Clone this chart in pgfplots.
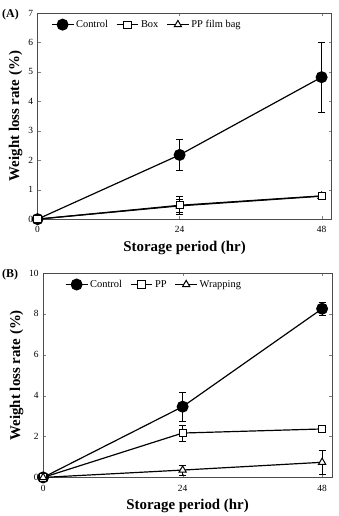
\documentclass[border=0pt]{standalone}
\usepackage{fontspec}
\setmainfont{Liberation Serif}
\usepackage{pgfplots}
\pgfplotsset{compat=1.18}
\begin{document}
\begin{tikzpicture}
\path (0bp,0bp) rectangle (340bp,-516bp);
\pgfplotsset{
  myax/.style={
    scale only axis,
    xmin=0, xmax=49.7, ymin=0,
    xtick={0,24,48},
    /pgf/number format/assume math mode=true,
    tick label style={font=\fontsize{9.5}{10}\selectfont},
    xticklabel style={yshift=-4bp},
    yticklabel style={xshift=-1bp},
    xlabel={\textbf{Storage period (hr)}},
    ylabel={\textbf{Weight loss rate (\%)}},
    label style={font=\fontsize{15}{16}\selectfont},
    xlabel style={yshift=-1bp},
    ylabel style={yshift=-1bp},
    tick align=inside, major tick length=3bp,
    axis line style={line width=0.8bp, black!70},
    legend style={draw=none, fill=none, at={(0.035,0.985)}, anchor=north west,
      font=\fontsize{10.5}{11}\selectfont, legend columns=3,
      /tikz/every even column/.append style={column sep=6bp}},
    legend image code/.code={\draw[mark repeat=2,mark phase=2] plot coordinates {(0bp,0bp)(11bp,0bp)(22bp,0bp)};},
    error bars/y dir=both, error bars/y explicit,
    error bars/error bar style={line width=0.6bp},
    error bars/error mark options={rotate=90, mark size=3.5bp, line width=0.6bp},
  },
  ctrl/.style={black, line width=1.2bp, mark=*, mark size=5.4bp, mark options={fill=black}},
  sq/.style={black, line width=1.2bp, mark=square*, mark size=3.6bp, mark options={fill=white, line width=1bp}},
  tri/.style={black, line width=1.2bp, mark=triangle*, mark size=4.2bp, mark options={fill=white, line width=1bp}},
}
\begin{axis}[myax, at={(37.7bp,-220bp)}, anchor=south west, width=295.3bp, height=207bp,
  ymax=7, ytick={0,1,2,3,4,5,6,7}]
\addplot[ctrl] coordinates {(0,0) +- (0,0.05) (24,2.18) +- (0,0.53) (48,4.82) +- (0,1.18)};
\addlegendentry{Control}
\addplot[tri, forget plot] coordinates {(0,0) +- (0,0.03) (24,0.45) +- (0,0.22) (48,0.78) +- (0,0.05)};
\addplot[sq] coordinates {(0,0) +- (0,0.03) (24,0.47) +- (0,0.3) (48,0.79) +- (0,0.06)};
\addlegendentry{Box}
\addlegendimage{tri}\addlegendentry{PP film bag}
\end{axis}
\node[anchor=north west, font=\fontsize{12}{13}\selectfont\bfseries, inner sep=0pt] at (2bp,-9bp) {(A)};
\begin{axis}[myax, at={(43.3bp,-479.3bp)}, anchor=south west, width=290bp, height=205.3bp,
  ymax=10, ytick={0,2,4,6,8,10},
  legend style={at={(0.065,0.985)}}]
\addplot[ctrl] coordinates {(0,0) +- (0,0.05) (24,3.46) +- (0,0.72) (48,8.25) +- (0,0.33)};
\addlegendentry{Control}
\addplot[sq] coordinates {(0,0) +- (0,0.03) (24,2.17) +- (0,0.4) (48,2.37) +- (0,0.15)};
\addlegendentry{PP}
\addplot[tri] coordinates {(0,0) +- (0,0.03) (24,0.36) +- (0,0.25) (48,0.74) +- (0,0.58)};
\addlegendentry{Wrapping}
\end{axis}
\node[anchor=north west, font=\fontsize{12}{13}\selectfont\bfseries, inner sep=0pt] at (2bp,-270bp) {(B)};
\end{tikzpicture}
\end{document}
